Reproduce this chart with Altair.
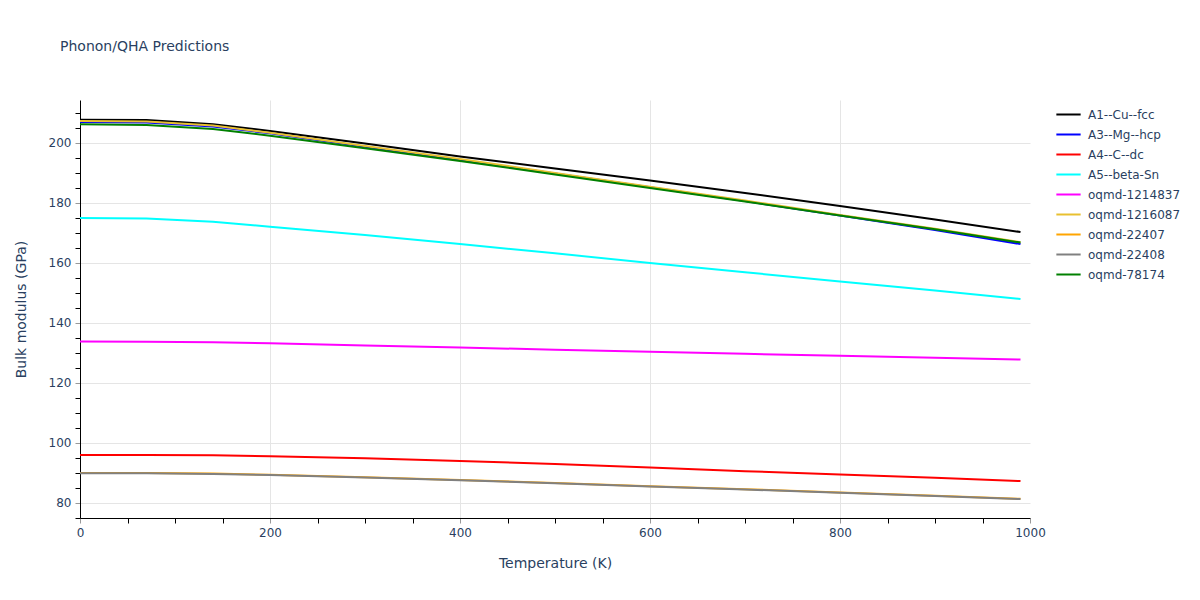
import altair as alt
import pandas as pd

temps = [0, 70, 140, 200, 300, 400, 500, 600, 700, 800, 900, 990]

series_names = ["A1--Cu--fcc", "A3--Mg--hcp", "A4--C--dc", "A5--beta-Sn",
                "oqmd-1214837", "oqmd-1216087", "oqmd-22407", "oqmd-22408", "oqmd-78174"]
series_colors = ["#000000", "#0000ff", "#ff0000", "#00ffff",
                 "#ff00ff", "#e8c030", "#ffa500", "#808080", "#008000"]

cu_fcc = [207.7, 207.6, 206.2, 204.0, 199.8, 195.5, 191.5, 187.5, 183.3, 179.0, 174.5, 170.3]
mg_hcp = [207.0, 206.8, 205.5, 203.2, 198.7, 194.3, 189.8, 185.2, 180.6, 175.8, 171.0, 166.3]
c_dc = [96.0, 96.0, 95.9, 95.6, 94.9, 94.0, 93.0, 91.8, 90.6, 89.5, 88.4, 87.3]
beta_sn = [175.0, 174.8, 173.7, 172.1, 169.3, 166.3, 163.2, 160.0, 156.9, 153.8, 150.8, 148.0]
oqmd_1214837 = [133.8, 133.7, 133.6, 133.2, 132.5, 131.8, 131.1, 130.4, 129.7, 129.1, 128.4, 127.8]
oqmd_1216087 = [207.3, 207.1, 205.8, 203.4, 199.0, 194.6, 190.0, 185.4, 180.8, 176.0, 171.4, 166.9]
oqmd_22407 = [90.0, 90.0, 89.8, 89.4, 88.6, 87.7, 86.7, 85.6, 84.6, 83.5, 82.4, 81.4]
oqmd_22408 = [89.9, 89.9, 89.7, 89.3, 88.5, 87.6, 86.6, 85.5, 84.5, 83.4, 82.3, 81.3]
oqmd_78174 = [206.2, 206.0, 204.6, 202.4, 198.2, 194.0, 189.5, 185.0, 180.5, 175.8, 171.2, 166.8]

all_series = [cu_fcc, mg_hcp, c_dc, beta_sn, oqmd_1214837, oqmd_1216087,
              oqmd_22407, oqmd_22408, oqmd_78174]

rows = []
for name, vals in zip(series_names, all_series):
    for t, v in zip(temps, vals):
        rows.append({"T": t, "B": v, "series": name})
df = pd.DataFrame(rows)

font = "DejaVu Sans"
txt = "#2a3f5f"

x_ticks = list(range(0, 1001, 50))
y_ticks = list(range(75, 215, 5))

chart = alt.Chart(df).mark_line(strokeWidth=2).encode(
    x=alt.X("T:Q", title="Temperature (K)",
            scale=alt.Scale(domain=[0, 1000], nice=False, zero=False),
            axis=alt.Axis(values=x_ticks, format="d",
                          labelExpr="datum.value % 200 == 0 ? datum.label : ''",
                          gridColor={"condition": {"test": "datum.value % 200 == 0 && datum.value > 0 && datum.value < 1000", "value": "#e5e5e5"}, "value": "transparent"},
                          tickColor={"condition": {"test": "datum.value % 200 == 0", "value": "#999999"}, "value": "#000000"},
                          domainColor="#000000", tickSize=5, labelPadding=4,
                          labelFontSize=12, labelColor=txt, titleFontSize=14,
                          titleColor=txt, titleFontWeight="normal", titlePadding=18,
                          labelFont=font, titleFont=font, labelFlush=False)),
    y=alt.Y("B:Q", title="Bulk modulus (GPa)",
            scale=alt.Scale(domain=[75, 214.3], nice=False, zero=False),
            axis=alt.Axis(values=y_ticks, format="d",
                          labelExpr="datum.value % 20 == 0 ? datum.label : ''",
                          gridColor={"condition": {"test": "datum.value % 20 == 0", "value": "#e5e5e5"}, "value": "transparent"},
                          tickColor={"condition": {"test": "datum.value % 20 == 0", "value": "#999999"}, "value": "#000000"},
                          domainColor="#000000", tickSize=5, labelPadding=4,
                          labelFontSize=12, labelColor=txt, titleFontSize=14,
                          titleColor=txt, titleFontWeight="normal", titlePadding=20,
                          labelFont=font, titleFont=font, labelFlush=False)),
    color=alt.Color("series:N",
                    scale=alt.Scale(domain=series_names, range=series_colors),
                    legend=alt.Legend(title=None, orient="none", legendX=975, legendY=1,
                                      symbolType="stroke", symbolSize=590, symbolStrokeWidth=2,
                                      labelFontSize=12, labelColor=txt, labelFont=font,
                                      labelLimit=200,
                                      rowPadding=0, symbolOffset=0, labelOffset=6)),
).properties(
    width=950, height=418,
    title=alt.TitleParams("Phonon/QHA Predictions", anchor="start", frame="group", dx=-20, offset=46,
                          fontSize=14, font=font, color=txt, fontWeight="normal"),
    autosize=alt.AutoSizeParams(type="none"),
    padding={"left": 72, "top": 92, "right": 160, "bottom": 70},
).configure(background="white").configure_view(strokeWidth=0)

chart.save("out.html", embed_options={"renderer": "svg", "actions": False})
